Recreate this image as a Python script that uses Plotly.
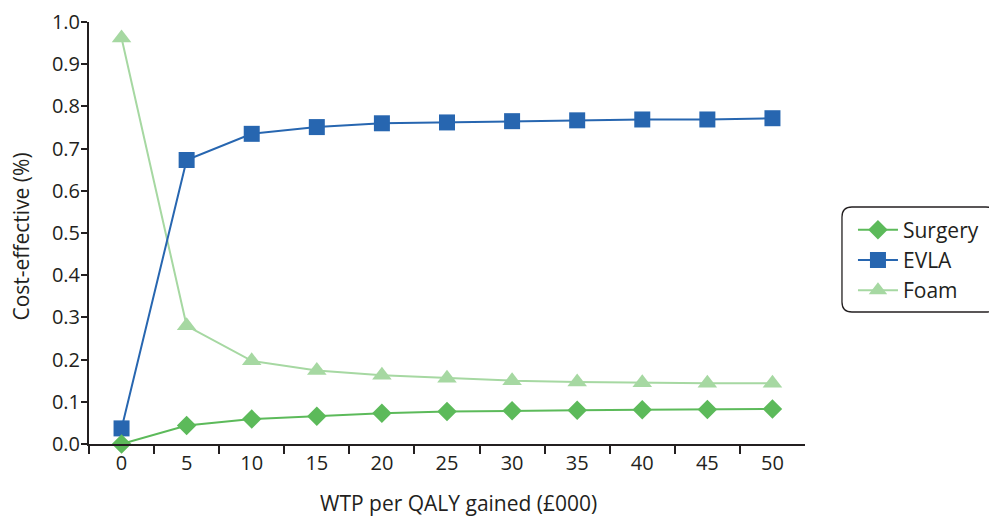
import plotly.graph_objects as go

wtp = ["0", "5", "10", "15", "20", "25", "30", "35", "40", "45", "50"]
surgery = [0.0, 0.044, 0.059, 0.066, 0.073, 0.077, 0.079, 0.080, 0.081, 0.082, 0.083]
evla = [0.037, 0.673, 0.735, 0.751, 0.760, 0.762, 0.765, 0.767, 0.769, 0.769, 0.772]
foam = [0.962, 0.280, 0.197, 0.174, 0.163, 0.156, 0.150, 0.147, 0.145, 0.144, 0.144]
y_ticks = [0.0, 0.1, 0.2, 0.3, 0.4, 0.5, 0.6, 0.7, 0.8, 0.9, 1.0]
x_title = "WTP per QALY gained (£000)"
y_title = "Cost-effective (%)"

FONT = "Open Sans"
TXT = "#231f20"
OFF = 8  # page body margin
SHIFT = 9  # extra gap between y tick labels and axis

W, H = 997 - OFF, 519 - OFF
L, R, B, T = 88.5 - OFF, 805.0 - OFF, 444.0 - OFF, 22.0 - OFF
Lm = L - SHIFT
pw, ph = R - Lm, B - T
def px(x): return (x - OFF - Lm) / pw
def py(y): return (B - (y - OFF)) / ph

fig = go.Figure()
fig.add_trace(go.Scatter(x=wtp, y=foam, name="Foam", mode="lines+markers",
                         line=dict(color="#a6d8a2", width=2),
                         marker=dict(symbol="triangle-up", size=17, color="#a6d8a2"),
                         cliponaxis=False, legendrank=3))
fig.add_trace(go.Scatter(x=wtp, y=evla, name="EVLA", mode="lines+markers",
                         line=dict(color="#2766b0", width=2),
                         marker=dict(symbol="square", size=16, color="#2766b0"),
                         cliponaxis=False, legendrank=2))
fig.add_trace(go.Scatter(x=wtp, y=surgery, name="Surgery", mode="lines+markers",
                         line=dict(color="#5cba5a", width=2),
                         marker=dict(symbol="diamond", size=15, color="#5cba5a"),
                         cliponaxis=False, legendrank=1))

# rounded legend frame (reference pixel coords)
x0, x1, y0, y1 = px(842), px(996), py(312), py(207)
rx, ry = 10 / pw, 10 / ph
path = (f"M {x0+rx},{y1} L {x1-rx},{y1} Q {x1},{y1} {x1},{y1-ry} "
        f"L {x1},{y0+ry} Q {x1},{y0} {x1-rx},{y0} L {x0+rx},{y0} "
        f"Q {x0},{y0} {x0},{y0+ry} L {x0},{y1-ry} Q {x0},{y1} {x0+rx},{y1} Z")
fig.add_shape(type="path", path=path, xref="paper", yref="paper",
              line=dict(color=TXT, width=1.3))

# axis titles
fig.add_annotation(text=x_title, xref="paper", yref="paper", x=px(458), y=py(503),
                   xanchor="center", yanchor="middle", showarrow=False,
                   font=dict(size=21, color=TXT, family=FONT))
fig.add_annotation(text=y_title, xref="paper", yref="paper", x=px(20), y=py(237),
                   xanchor="center", yanchor="middle", showarrow=False, textangle=-90,
                   font=dict(size=21, color=TXT, family=FONT))

fig.update_layout(
    width=W, height=H,
    margin=dict(l=Lm, r=W - R, t=T, b=H - B, pad=0),
    paper_bgcolor="white", plot_bgcolor="white",
    font=dict(family=FONT, size=20, color=TXT),
    legend=dict(x=px(853), xanchor="left", y=py(260), yanchor="middle",
                font=dict(size=21, color=TXT), bgcolor="rgba(0,0,0,0)",
                tracegroupgap=1, itemwidth=40),
    showlegend=True,
    xaxis=dict(type="category", range=[-0.5, 10.5], domain=[SHIFT / pw, 1],
               showline=True, linecolor=TXT, linewidth=1.5, ticks="outside",
               tickson="boundaries", ticklen=8, tickcolor=TXT, tickwidth=1.5,
               showgrid=False, zeroline=False, tickfont=dict(size=20), automargin=False),
    yaxis=dict(range=[0, 1.0], tickvals=y_ticks, showline=True, linecolor=TXT,
               linewidth=1.5, ticks="outside", ticklen=6, tickcolor=TXT, tickwidth=1.5,
               showgrid=False, zeroline=False, showticklabels=False, automargin=False),
    yaxis2=dict(range=[0, 1.0], tickvals=y_ticks, tickformat=".1f", overlaying="y",
                anchor="free", position=0, side="left", showline=False, ticks="",
                showgrid=False, zeroline=False, tickfont=dict(size=20), automargin=False),
)
# invisible helper trace so the label axis is drawn with the same scale
fig.add_trace(go.Scatter(x=wtp, y=evla, yaxis="y2", mode="none", showlegend=False,
                         hoverinfo="skip"))

fig.write_html("out.html")
